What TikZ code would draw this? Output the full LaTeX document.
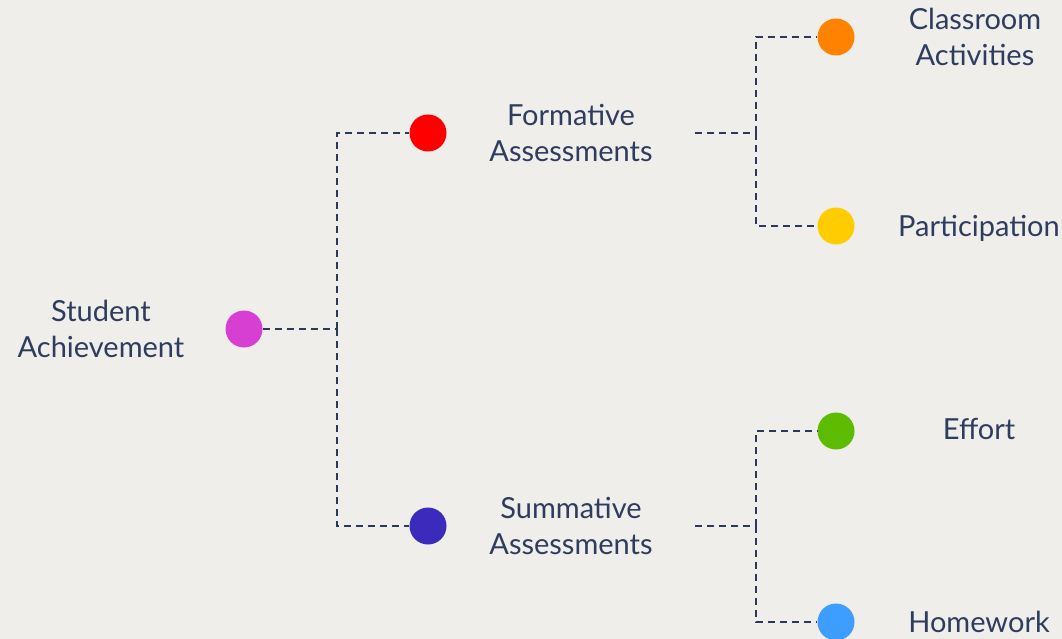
\documentclass[tikz,border=0pt]{standalone}
\usepackage{fontspec}
\setmainfont{Lato}
\usepackage{xcolor}
\usetikzlibrary{positioning}

\definecolor{sfondo}{HTML}{EFEEEB}
\definecolor{linea}{HTML}{2B3A5C}
\definecolor{testo}{HTML}{2E3D5E}
\definecolor{cMagenta}{HTML}{D63FD2}
\definecolor{cRosso}{HTML}{FF0000}
\definecolor{cViola}{HTML}{3A2BBD}
\definecolor{cArancio}{HTML}{FF8200}
\definecolor{cGiallo}{HTML}{FFCC00}
\definecolor{cVerde}{HTML}{5DBB00}
\definecolor{cBlu}{HTML}{3D9EFF}

\tikzset{
    punto/.style={circle, fill=#1, minimum size=37pt, inner sep=0pt},
    etichetta/.style={text=testo, align=center, inner sep=0pt,
        font=\fontsize{29}{36}\selectfont},
    tratteggio/.style={linea, line width=2.2pt, dash pattern=on 7pt off 5pt}
}

\begin{document}
\begin{tikzpicture}[x=1pt, y=-1pt]
        % Sfondo
        \fill[sfondo] (0,0) rectangle (1062,639);
        \useasboundingbox (0,0) rectangle (1062,639);

        % Radice
        \node[etichetta] (achTxt) at (101,329) {Student\\Achievement};
        \node[punto=cMagenta] (ach) at (244,329) {};

        % Primo livello
        \node[punto=cRosso] (form) at (428,133) {};
        \node[etichetta] (formTxt) at (571,133) {Formative\\Assessments};
        \node[punto=cViola] (summ) at (428,526) {};
        \node[etichetta] (summTxt) at (571,526) {Summative\\Assessments};

        % Secondo livello
        \node[punto=cArancio] (class) at (836,37) {};
        \node[etichetta] (classTxt) at (975,37) {Classroom\\Activities};
        \node[punto=cGiallo] (part) at (836,226) {};
        \node[etichetta] (partTxt) at (979,228) {Participation};
        \node[punto=cVerde] (eff) at (836,431) {};
        \node[etichetta] (effTxt) at (979,429) {Effort};
        \node[punto=cBlu] (home) at (836,622) {};
        \node[etichetta] (homeTxt) at (979,622) {Homework};

        % Punti di diramazione
        \coordinate (j1) at (337,329);
        \coordinate (f1) at (695,133);
        \coordinate (j2) at (756,133);
        \coordinate (s1) at (695,526);
        \coordinate (j3) at (756,526);

        % Collegamenti
        \draw[tratteggio] (ach) -- (j1);
        \draw[tratteggio] (j1) |- (form);
        \draw[tratteggio] (j1) |- (summ);

        \draw[tratteggio] (f1) -- (j2); % accanto al testo
        \draw[tratteggio] (j2) |- (class);
        \draw[tratteggio] (j2) |- (part);

        \draw[tratteggio] (s1) -- (j3);
        \draw[tratteggio] (j3) |- (eff);
        \draw[tratteggio] (j3) |- (home);
    \end{tikzpicture}
\end{document}
